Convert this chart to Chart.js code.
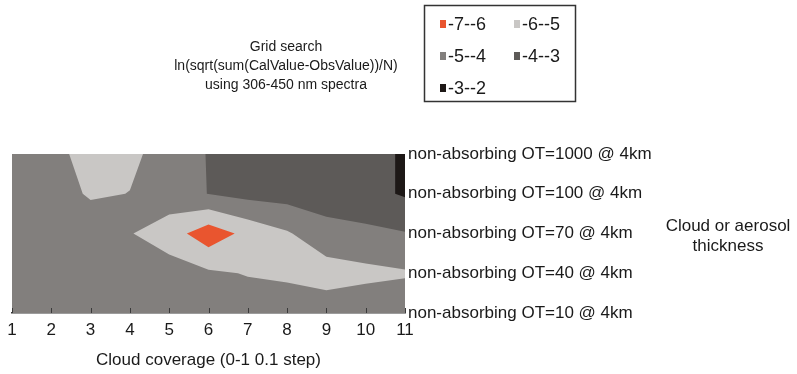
<!DOCTYPE html>
<html>
<head>
<meta charset="utf-8">
<script src="https://cdn.jsdelivr.net/npm/chart.js@4.4.0/dist/chart.umd.min.js"></script>
<style>
  html, body { margin: 0; padding: 0; background: #fff; }
  #wrap { width: 797px; height: 374px; }
</style>
</head>
<body>
<div id="wrap"><canvas id="myChart"></canvas></div>
<script>
// cloud coverage steps (x)
var xVals = [1, 2, 3, 4, 5, 6, 7, 8, 9, 10, 11];
// thickness rows, bottom to top
var yLabels = [
  "non-absorbing OT=10 @ 4km",
  "non-absorbing OT=40 @ 4km",
  "non-absorbing OT=70 @ 4km",
  "non-absorbing OT=100 @ 4km",
  "non-absorbing OT=1000 @ 4km"
];
// ln(sqrt(sum(Cal-Obs))/N), one array per row
var ot10 = [-4.5, -4.5, -4.5, -4.5, -4.5, -4.5, -4.5, -4.5, -4.4, -4.3, -4.3];
var ot40 = [-4.5, -4.5, -4.5, -4.5, -4.55, -4.85, -5.05, -5.15, -5.45, -5.25, -5.1];
var ot70 = [-4.5, -4.5, -4.2, -4.95, -5.51, -6.6, -5.7, -5.1, -4.36, -4.23, -4.05];
var ot100 = [-4.5, -4.4, -5.15, -4.98, -4.45, -3.98, -3.7, -3.6, -3.5, -3.3, -2.9];
var ot1000 = [-4.5, -4.5, -5.6, -5.2, -4.6, -3.95, -3.5, -3.5, -3.4, -3.3, -2.9];
// bands
var bandLabels = ["-7--6", "-6--5", "-5--4", "-4--3", "-3--2"];
var bandLows = [-7, -6, -5, -4, -3];
var bandColors = ["#e9552f", "#c9c7c5", "#827f7d", "#5d5a58", "#1d1816"];
var titleLines = ["Grid search", "ln(sqrt(sum(CalValue-ObsValue))/N)", "using 306-450 nm spectra"];

var grid = [ot10, ot40, ot70, ot100, ot1000];
var font = "'Liberation Sans', Arial, sans-serif";

// filled contour bands, marching squares per cell
var contourPlugin = {
  id: "contour",
  beforeDatasetsDraw: function(chart) {
    var ctx = chart.ctx;
    var xs = chart.scales.x, ys = chart.scales.y;
    var area = chart.chartArea;
    ctx.save();
    ctx.beginPath();
    ctx.rect(area.left, area.top, area.right - area.left, area.bottom - area.top);
    ctx.clip();
    for (var b = 0; b < bandLows.length; b++) {
      var t = bandLows[b];
      ctx.beginPath();
      for (var j = 0; j < grid.length - 1; j++) {
        for (var i = 0; i < xVals.length - 1; i++) {
          var c = [[i, j], [i + 1, j], [i + 1, j + 1], [i, j + 1]];
          var poly = [];
          for (var k = 0; k < 4; k++) {
            var p = c[k], q = c[(k + 1) % 4];
            var vp = grid[p[1]][p[0]], vq = grid[q[1]][q[0]];
            if (vp >= t) poly.push([p[0], p[1]]);
            if ((vp >= t) !== (vq >= t)) {
              var f = (t - vp) / (vq - vp);
              poly.push([p[0] + f * (q[0] - p[0]), p[1] + f * (q[1] - p[1])]);
            }
          }
          if (poly.length < 3) continue;
          for (var m = 0; m < poly.length; m++) {
            var px = xs.getPixelForValue(xVals[0] + poly[m][0]);
            var py = ys.getPixelForValue(poly[m][1]);
            if (m == 0) ctx.moveTo(px, py); else ctx.lineTo(px, py);
          }
          ctx.closePath();
        }
      }
      ctx.fillStyle = bandColors[b];
      ctx.fill();
    }
    ctx.restore();
  },
  afterDraw: function(chart) {
    var ctx = chart.ctx;
    var xs = chart.scales.x;
    var area = chart.chartArea;
    ctx.save();
    // inside tick marks
    ctx.strokeStyle = "#3a3a3a";
    ctx.lineWidth = 1;
    xs.ticks.forEach(function(tk) {
      var x = Math.round(xs.getPixelForValue(tk.value)) + 0.5;
      ctx.beginPath();
      ctx.moveTo(x, area.bottom);
      ctx.lineTo(x, area.bottom - 5);
      ctx.stroke();
    });
    ctx.fillStyle = "#1a1a1a";
    ctx.textAlign = "center";
    ctx.textBaseline = "middle";
    // title
    ctx.font = "14px " + font;
    titleLines.forEach(function(s, n) {
      ctx.fillText(s, 286, 47 + n * 19);
    });
    // right side axis title
    ctx.font = "17px " + font;
    ctx.fillText("Cloud or aerosol", 728, 226);
    ctx.fillText("thickness", 728, 246);
    // legend box
    ctx.strokeStyle = "#333";
    ctx.lineWidth = 1.5;
    ctx.strokeRect(424.5, 5.5, 151, 96);
    ctx.font = "18px " + font;
    ctx.textAlign = "left";
    var lx = [440, 514], ly = [24, 56, 88];
    bandLabels.forEach(function(s, n) {
      var x = lx[n % 2], y = ly[Math.floor(n / 2)];
      ctx.fillStyle = bandColors[n];
      ctx.fillRect(x, y - 4, 6, 8);
      ctx.fillStyle = "#1a1a1a";
      ctx.fillText(s, x + 8, y + 1);
    });
    ctx.restore();
  }
};

var chart = new Chart(document.getElementById("myChart"), {
  type: "scatter",
  data: { datasets: [] },
  options: {
    responsive: true,
    maintainAspectRatio: false,
    animation: false,
    layout: { padding: { left: 12, top: 154, right: 0, bottom: 0 } },
    plugins: { legend: { display: false }, title: { display: false }, tooltip: { enabled: false } },
    scales: {
      x: {
        type: "linear",
        min: 1, max: 11,
        grid: { display: false, drawTicks: false },
        border: { display: true, color: "#3a3a3a", width: 1.5 },
        ticks: { stepSize: 1, color: "#1a1a1a", font: { family: font, size: 17 }, padding: 7, maxRotation: 0 },
        title: { display: true, text: "Cloud coverage (0-1 0.1 step)", color: "#1a1a1a",
                 font: { family: font, size: 17 }, padding: { top: 0, bottom: 3 } },
        afterFit: function(s) { s.height = 61; }
      },
      y: {
        type: "linear",
        position: "right",
        min: 0, max: 4,
        grid: { display: false, drawTicks: false },
        border: { display: false },
        ticks: { stepSize: 1, color: "#1a1a1a", font: { family: font, size: 17 }, padding: 3,
                 callback: function(v) { return yLabels[v]; } },
        afterFit: function(s) { s.width = 392; }
      }
    }
  },
  plugins: [contourPlugin]
});
</script>
</body>
</html>
